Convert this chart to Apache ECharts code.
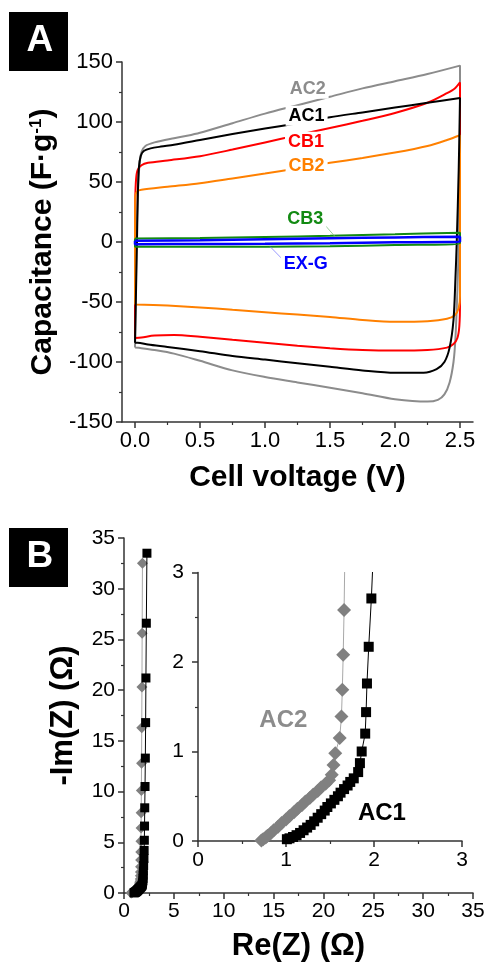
<!DOCTYPE html>
<html><head><meta charset="utf-8">
<script src="https://cdn.jsdelivr.net/npm/echarts@6/dist/echarts.min.js"></script>
<style>html,body{margin:0;padding:0;background:#fff}#c{width:488px;height:971px}</style>
</head><body><div id="c"></div>
<script>
const FONT = "'Liberation Sans', Arial, Helvetica, sans-serif";

// ---------- Panel A: cyclic voltammetry ----------
const cvVoltTicks = [0, 0.5, 1, 1.5, 2, 2.5];
const cvVoltTickLabels = ['0.0', '0.5', '1.0', '1.5', '2.0', '2.5'];
const cvVoltMinor = [0.25, 0.75, 1.25, 1.75, 2.25];

const ac2V = [0,0.005,0.012,0.022,0.035,0.05,0.08,0.15,0.3,0.4,0.5,0.75,1.0,1.25,1.5,1.75,2.0,2.25,2.5,2.5,2.495,2.49,2.48,2.465,2.45,2.42,2.38,2.33,2.25,2.0,1.75,1.5,1.25,1.0,0.75,0.5,0.3,0.15,0.05,0];
const ac2C = [-88,-50,0,40,65,75,80,83,86.5,88.5,91,99,107,114,121,128,134,140,147,100,50,0,-40,-80,-100,-117,-127,-131.5,-133,-131,-126,-121.5,-117,-112.5,-107,-99,-93,-90,-88.5,-88];

const ac1V = [0,0.008,0.015,0.022,0.03,0.045,0.07,0.12,0.2,0.3,0.5,0.75,1.0,1.25,1.5,1.75,2.0,2.25,2.5,2.49,2.475,2.465,2.45,2.42,2.38,2.32,2.22,2.0,1.75,1.5,1.25,1.0,0.75,0.5,0.25,0.1,0.02,0];
const ac1C = [-84,-40,0,40,62,72,76,78,79.5,81,85,90,94.5,99,104,108,112,116,120,60,0,-30,-65,-88,-100,-106,-109,-109,-107,-104,-101,-98,-95,-91,-87.5,-85.5,-84,-84];

const cb1V = [0,0,0.002,0.008,0.02,0.05,0.1,0.25,0.5,0.75,1.0,1.25,1.5,1.75,2.0,2.25,2.4,2.46,2.5,2.5,2.5,2.495,2.48,2.45,2.4,2.25,2.0,1.75,1.5,1.25,1.0,0.75,0.5,0.3,0.15,0.05,0];
const cb1C = [-80,0,35,52,60,64,66,68,71.5,77,83,89,95,101,107.5,116,124,128,133,0,-50,-70,-80,-85,-88,-90,-90.5,-90,-88.5,-86.5,-84,-81.5,-79,-77.5,-78,-79.5,-80];

const cb2V = [0,0,0.002,0.015,0.05,0.25,0.5,0.75,1.0,1.25,1.5,1.75,2.0,2.25,2.4,2.5,2.5,2.5,2.49,2.46,2.4,2.25,2.0,1.75,1.5,1.25,1.0,0.75,0.5,0.25,0];
const cb2C = [-52,0,38,42,43.5,46,49,53,57,61.5,66,70,74.5,80,85,89,0,-45,-55,-61,-64,-66,-66.5,-65,-62.5,-60.5,-58.5,-56.5,-54.5,-53,-52];

const cb3V = [0,0.5,1.0,1.5,2.0,2.5,2.5,2.0,1.5,1.0,0.5,0,0];
const cb3C = [3,3.4,4.2,5.2,6.4,7.8,-1,-2.5,-3.5,-4,-4,-4,3];

const exgV = [0,0.5,1.0,1.5,2.0,2.5,2.5,2.0,1.5,1.0,0.5,0,0];
const exgC = [1,1.5,2.3,3.1,3.8,4.4,0.3,-0.3,-1,-1.5,-1.7,-1.8,1];

const cvNames = ['AC2', 'AC1', 'CB1', 'CB2', 'CB3', 'EX-G'];

// ---------- Panel B: Nyquist ----------
const ac1Re = [2.3,2.24,2.2,2.17,2.14,2.11,2.08,2.06,2.04,2.02,2.0,1.97,1.94,1.92,1.91,1.90,1.86,1.84,1.82,1.77,1.73,1.70,1.66,1.62,1.59,1.55,1.51,1.47,1.44,1.40,1.36,1.32,1.28,1.24,1.20,1.16,1.12,1.08,1.04,1.01];
const ac1Im = [33.5,26.6,21.2,16.8,13.3,10.5,8.4,6.6,5.2,4.2,3.4,2.71,2.17,1.76,1.44,1.20,1.0,0.87,0.77,0.70,0.66,0.62,0.58,0.54,0.50,0.46,0.42,0.38,0.34,0.30,0.26,0.22,0.18,0.15,0.12,0.09,0.065,0.045,0.03,0.02];
const ac2Re = [1.85,1.82,1.80,1.78,1.76,1.74,1.72,1.71,1.70,1.68,1.67,1.66,1.65,1.64,1.63,1.61,1.56,1.54,1.52,1.49,1.45,1.40,1.36,1.31,1.27,1.22,1.18,1.13,1.09,1.04,1.00,0.95,0.91,0.86,0.83,0.79,0.77,0.74,0.72];
const ac2Im = [32.5,25.6,20.3,16.3,12.8,10.1,7.9,6.4,5.1,4.05,3.25,2.58,2.08,1.69,1.39,1.15,0.98,0.85,0.74,0.68,0.64,0.60,0.56,0.52,0.48,0.44,0.40,0.36,0.32,0.28,0.24,0.20,0.16,0.12,0.09,0.06,0.04,0.02,0.005];
const eisNames = ['AC2', 'AC1'];

// ---------- helpers ----------
const zip = (a, b) => a.map((v, i) => [v, b[i]]);
const AXC = '#333';
const HIDDEN = 'rgba(0,0,0,0)';

function cvLine(name, V, C, color, w, z) {
  return { name, type: 'line', xAxisIndex: 0, yAxisIndex: 0, data: zip(V, C),
    symbol: 'none', showSymbol: false, smooth: 0.3, clip: false, z: z,
    lineStyle: { color, width: w }, silent: true };
}

const cvLabelPos = [[1.328,127.7],[1.32,105.2],[1.315,83.6],[1.32,63.1],[1.31,19.2],[1.314,-18]];
const cvColors = ['#8c8c8c', '#000000', '#ff0000', '#ff8000', '#128a12', '#0000ff'];

const option = {
  animation: false,
  backgroundColor: '#fff',
  textStyle: { fontFamily: FONT },
  grid: [
    { left: 122, top: 62, width: 351, height: 360, containLabel: false, outerBoundsMode: 'none' },
    { left: 124, top: 538, width: 349, height: 355, containLabel: false, outerBoundsMode: 'none' },
    { left: 198, top: 572.5, width: 264, height: 268.5, containLabel: false, outerBoundsMode: 'none' }
  ],
  xAxis: [
    { gridIndex: 0, type: 'value', min: -0.1, max: 2.6, position: 'bottom',
      name: 'Cell voltage (V)', nameLocation: 'middle', nameGap: 41,
      nameTextStyle: { fontFamily: FONT, fontSize: 30, fontWeight: 'bold', color: '#000' },
      axisLine: { show: true, onZero: false, lineStyle: { color: AXC, width: 1.5 } },
      axisTick: { show: true, inside: false, length: 6, customValues: cvVoltTicks, lineStyle: { color: AXC, width: 1.5 } },
      axisLabel: { show: true, margin: 8, customValues: cvVoltTicks, fontFamily: FONT, fontSize: 22, color: '#000',
        formatter: v => cvVoltTickLabels[cvVoltTicks.indexOf(Math.round(v * 100) / 100)] ?? '' },
      splitLine: { show: false } },
    { gridIndex: 0, type: 'value', min: -0.1, max: 2.6, position: 'bottom', offset: 0,
      axisLine: { show: false, onZero: false },
      axisTick: { show: true, inside: false, length: 3, customValues: cvVoltMinor, lineStyle: { color: AXC, width: 1.2 } },
      axisLabel: { show: false }, splitLine: { show: false } },
    { gridIndex: 1, type: 'value', min: 0, max: 35, interval: 5,
      name: 'Re(Z) (Ω)', nameLocation: 'middle', nameGap: 38,
      nameTextStyle: { fontFamily: FONT, fontSize: 31, fontWeight: 'bold', color: '#000' },
      axisLine: { show: true, onZero: false, lineStyle: { color: AXC, width: 1.5 } },
      axisTick: { show: true, inside: false, length: 6, lineStyle: { color: AXC, width: 1.5 } },
      minorTick: { show: true, splitNumber: 2, length: 3, lineStyle: { color: AXC, width: 1.2 } },
      axisLabel: { margin: 8, fontFamily: FONT, fontSize: 21, color: '#000' },
      splitLine: { show: false }, minorSplitLine: { show: false } },
    { gridIndex: 2, type: 'value', min: 0, max: 3, interval: 1,
      axisLine: { show: true, onZero: false, lineStyle: { color: AXC, width: 1.5 } },
      axisTick: { show: true, inside: false, length: 6, lineStyle: { color: AXC, width: 1.5 } },
      minorTick: { show: true, splitNumber: 2, length: 3, lineStyle: { color: AXC, width: 1.2 } },
      axisLabel: { margin: 9, fontFamily: FONT, fontSize: 21, color: '#000' },
      splitLine: { show: false }, minorSplitLine: { show: false } }
  ],
  yAxis: [
    { gridIndex: 0, type: 'value', min: -150, max: 150, interval: 50,
      name: 'Capacitance (F·g{sup|-1})', nameLocation: 'middle', nameGap: 60,
      nameTextStyle: { fontFamily: FONT, fontSize: 30, fontWeight: 'bold', color: '#000',
        rich: { sup: { fontFamily: FONT, fontSize: 17, fontWeight: 'bold', color: '#000', verticalAlign: 'top', padding: [0,0,14,0] } } },
      axisLine: { show: true, onZero: false, lineStyle: { color: AXC, width: 1.5 } },
      axisTick: { show: true, inside: false, length: 6, lineStyle: { color: AXC, width: 1.5 } },
      minorTick: { show: true, splitNumber: 2, length: 3, lineStyle: { color: AXC, width: 1.2 } },
      axisLabel: { margin: 9, fontFamily: FONT, fontSize: 22, color: '#000' },
      splitLine: { show: false }, minorSplitLine: { show: false } },
    { gridIndex: 1, type: 'value', min: 0, max: 35, interval: 5,
      name: '-Im(Z) (Ω)', nameLocation: 'middle', nameGap: 45,
      nameTextStyle: { fontFamily: FONT, fontSize: 31, fontWeight: 'bold', color: '#000' },
      axisLine: { show: true, onZero: false, lineStyle: { color: AXC, width: 1.5 } },
      axisTick: { show: true, inside: false, length: 6, lineStyle: { color: AXC, width: 1.5 } },
      minorTick: { show: true, splitNumber: 2, length: 3, lineStyle: { color: AXC, width: 1.2 } },
      axisLabel: { margin: 9, fontFamily: FONT, fontSize: 21, color: '#000' },
      splitLine: { show: false }, minorSplitLine: { show: false } },
    { gridIndex: 2, type: 'value', min: 0, max: 3, interval: 1,
      axisLine: { show: true, onZero: false, lineStyle: { color: AXC, width: 1.5 } },
      axisTick: { show: true, inside: false, length: 6, lineStyle: { color: AXC, width: 1.5 } },
      minorTick: { show: true, splitNumber: 2, length: 3, lineStyle: { color: AXC, width: 1.2 } },
      axisLabel: { margin: 14, fontFamily: FONT, fontSize: 21, color: '#000' },
      splitLine: { show: false }, minorSplitLine: { show: false } }
  ],
  graphic: [
    { type: 'rect', left: 9, top: 12, shape: { width: 59, height: 59 }, style: { fill: '#000' } },
    { type: 'text', left: 26.5, top: 22, style: { text: 'A', fill: '#fff', font: 'bold 37px ' + FONT } },
    { type: 'rect', left: 9, top: 528, shape: { width: 59, height: 59 }, style: { fill: '#000' } },
    { type: 'text', left: 26.5, top: 538, style: { text: 'B', fill: '#fff', font: 'bold 37px ' + FONT } }
  ],
  series: [
    cvLine(cvNames[0], ac2V, ac2C, cvColors[0], 2, 2),
    cvLine(cvNames[2], cb1V, cb1C, cvColors[2], 2, 3),
    cvLine(cvNames[3], cb2V, cb2C, cvColors[3], 2, 4),
    cvLine(cvNames[1], ac1V, ac1C, cvColors[1], 2, 5),
    cvLine(cvNames[4], cb3V, cb3C, cvColors[4], 2, 6),
    cvLine(cvNames[5], exgV, exgC, cvColors[5], 2.5, 7),
    // leader lines
    { type: 'line', xAxisIndex: 0, yAxisIndex: 0, data: [[1.46,14.2],[1.54,4.4]], symbol: 'none', z: 8,
      lineStyle: { color: '#80c080', width: 0.8 }, silent: true },
    { type: 'line', xAxisIndex: 0, yAxisIndex: 0, data: [[1.04,-3.9],[1.14,-15]], symbol: 'none', z: 8,
      lineStyle: { color: '#8080ff', width: 0.8 }, silent: true },
    // curve labels
    { type: 'scatter', xAxisIndex: 0, yAxisIndex: 0, symbolSize: 2, itemStyle: { color: HIDDEN, opacity: 1 }, z: 10, silent: true,
      data: cvNames.map((n, i) => ({ name: n, value: cvLabelPos[i],
        label: { show: true, position: 'inside', formatter: n, color: cvColors[i], opacity: 1, fontFamily: FONT, fontSize: 18, fontWeight: 'bold',
          backgroundColor: '#fff', padding: [1, 3] } })) },

    // Panel B main
    { name: eisNames[0], type: 'line', xAxisIndex: 2, yAxisIndex: 1, data: zip(ac2Re, ac2Im),
      symbol: 'diamond', symbolSize: 11, showSymbol: true, itemStyle: { color: '#808080' },
      lineStyle: { color: '#a8a8a8', width: 1 }, silent: true, z: 3 },
    { name: eisNames[1], type: 'line', xAxisIndex: 2, yAxisIndex: 1, data: zip(ac1Re, ac1Im),
      symbol: 'rect', symbolSize: 9, showSymbol: true, itemStyle: { color: '#000' },
      lineStyle: { color: '#000', width: 1 }, silent: true, z: 4 },
    // Panel B inset
    { name: eisNames[0], type: 'line', xAxisIndex: 3, yAxisIndex: 2, data: zip(ac2Re, ac2Im),
      symbol: 'diamond', symbolSize: 14, showSymbol: true, itemStyle: { color: '#808080' },
      lineStyle: { color: '#a8a8a8', width: 1 }, silent: true, clip: true, z: 3 },
    { name: eisNames[1], type: 'line', xAxisIndex: 3, yAxisIndex: 2, data: zip(ac1Re, ac1Im),
      symbol: 'rect', symbolSize: 10, showSymbol: true, itemStyle: { color: '#000' },
      lineStyle: { color: '#000', width: 1 }, silent: true, clip: true, z: 4 },
    { type: 'scatter', xAxisIndex: 3, yAxisIndex: 2, symbolSize: 2, itemStyle: { color: HIDDEN, opacity: 1 }, z: 10, silent: true,
      data: [
        { name: eisNames[0], value: [0.97, 1.35], label: { show: true, position: 'inside', formatter: eisNames[0], color: '#8c8c8c', opacity: 1, fontFamily: FONT, fontSize: 24, fontWeight: 'bold' } },
        { name: eisNames[1], value: [2.09, 0.31], label: { show: true, position: 'inside', formatter: eisNames[1], color: '#000', opacity: 1, fontFamily: FONT, fontSize: 24, fontWeight: 'bold' } }
      ] }
  ]
};

const chart = echarts.init(document.getElementById('c'), null, { renderer: 'canvas', width: 488, height: 971 });
chart.setOption(option);
</script>
</body></html>
